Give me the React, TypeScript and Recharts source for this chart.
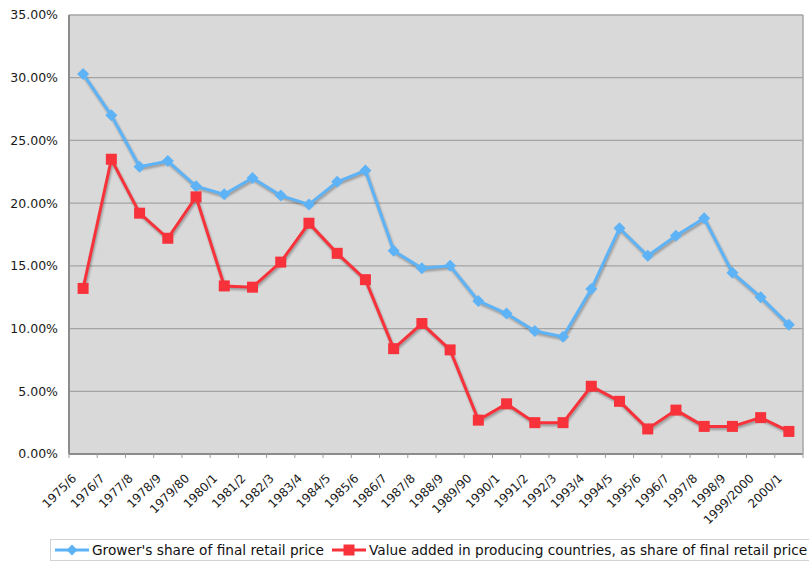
import React from 'react';
import { LineChart, Line, XAxis, YAxis, CartesianGrid, Legend } from 'recharts';

const seasons = [
  '1975/6', '1976/7', '1977/8', '1978/9', '1979/80', '1980/1', '1981/2', '1982/3', '1983/4',
  '1984/5', '1985/6', '1986/7', '1987/8', '1988/9', '1989/90', '1990/1', '1991/2', '1992/3',
  '1993/4', '1994/5', '1995/6', '1996/7', '1997/8', '1998/9', '1999/2000', '2000/1',
];

// percent of final retail price
const growerShare = [
  30.3, 27.0, 22.9, 23.35, 21.35, 20.7, 22.0, 20.6, 19.9, 21.7, 22.6, 16.2, 14.8,
  15.0, 12.2, 11.2, 9.8, 9.35, 13.15, 18.0, 15.8, 17.4, 18.8, 14.45, 12.5, 10.3,
];

const valueAdded = [
  13.2, 23.5, 19.2, 17.2, 20.5, 13.4, 13.3, 15.3, 18.4, 16.0, 13.9, 8.4, 10.4,
  8.3, 2.7, 4.0, 2.5, 2.5, 5.4, 4.2, 2.0, 3.5, 2.2, 2.2, 2.9, 1.8,
];

const yTicks = [0, 5, 10, 15, 20, 25, 30, 35];

const GROWER_LABEL = "Grower's share of final retail price";
const ADDED_LABEL = 'Value added in producing countries, as share of final retail price';

const BLUE = '#5eb3f6';
const RED = '#f8323a';
const FONT = '"DejaVu Sans", Verdana, sans-serif';

const data = seasons.map((season, i) => ({
  season,
  grower: growerShare[i],
  added: valueAdded[i],
}));

const Diamond = (props: any) => {
  const { cx, cy, index } = props;
  if (cx == null || cy == null) return null;
  const r = 6;
  return (
    <polygon
      key={`d-${index}`}
      points={`${cx},${cy - r} ${cx + r},${cy} ${cx},${cy + r} ${cx - r},${cy}`}
      fill={BLUE}
    />
  );
};

const Square = (props: any) => {
  const { cx, cy, index } = props;
  if (cx == null || cy == null) return null;
  const s = 11;
  return <rect key={`s-${index}`} x={cx - s / 2} y={cy - s / 2} width={s} height={s} fill={RED} />;
};

// tick marks sit on the band edges, labels are slanted under each band
const SeasonTick = (props: any) => {
  const { x, y, payload, index } = props;
  const half = payload && payload.offset ? payload.offset : 14.1;
  const isLast = index === seasons.length - 1;
  const tx = x - 6;
  const ty = y + 25;
  return (
    <g>
      <line x1={x - half} y1={y} x2={x - half} y2={y + 4} stroke="#9a9a9a" />
      {isLast && <line x1={x + half} y1={y} x2={x + half} y2={y + 4} stroke="#9a9a9a" />}
      <text
        x={tx}
        y={ty}
        transform={`rotate(-45 ${tx} ${ty})`}
        textAnchor="end"
        fontSize={12}
        fontFamily={FONT}
        fill="#1a1a1a"
      >
        {payload.value}
      </text>
    </g>
  );
};

const LegendMarker = ({ color, square }: { color: string; square: boolean }) => (
  <svg width={34} height={12} style={{ display: 'block' }}>
    <line x1={0} y1={6} x2={34} y2={6} stroke={color} strokeWidth={3} />
    {square ? (
      <rect x={11.5} y={0.5} width={11} height={11} fill={color} />
    ) : (
      <polygon points="17,0.5 22.5,6 17,11.5 11.5,6" fill={color} />
    )}
  </svg>
);

const renderLegend = (props: any) => {
  const items = props.payload || [];
  return (
    <div
      style={{
        height: 22,
        boxSizing: 'border-box',
        border: '1px solid #d2d2d2',
        background: '#fff',
        display: 'flex',
        alignItems: 'center',
        paddingLeft: 4,
        whiteSpace: 'nowrap',
        fontFamily: FONT,
        fontSize: 13.7,
        color: '#111',
      }}
    >
      {items.map((item: any) => (
        <span key={item.value} style={{ display: 'inline-flex', alignItems: 'center', marginRight: 8 }}>
          <LegendMarker color={item.color} square={item.dataKey === 'added'} />
          <span style={{ marginLeft: 3 }}>{item.value}</span>
        </span>
      ))}
    </div>
  );
};

export default function App() {
  return (
    <div style={{ position: 'absolute', left: 0, top: 0, width: 809, height: 561, overflow: 'hidden', background: '#fff' }}>
      <style>{'.shadowed { filter: drop-shadow(1px 2px 1px rgba(0,0,0,0.3)); }'}</style>
      <LineChart
        width={809}
        height={561}
        data={data}
        margin={{ top: 15, right: 5, left: 0, bottom: 0 }}
        style={{ fontFamily: FONT }}
      >
        <CartesianGrid fill="#d9d9d9" vertical={false} stroke="#a4a4a4" strokeWidth={1.3} />
        <XAxis
          dataKey="season"
          scale="band"
          height={85}
          interval={0}
          tickSize={0}
          tickMargin={0}
          tickLine={false}
          axisLine={{ stroke: '#8c8c8c', strokeWidth: 2 }}
          tick={<SeasonTick />}
        />
        <YAxis
          width={69}
          domain={[0, 35]}
          ticks={yTicks}
          interval={0}
          tickSize={0}
          tickMargin={11}
          tickLine={false}
          axisLine={{ stroke: '#8c8c8c', strokeWidth: 2 }}
          tickFormatter={(v: number) => `${v.toFixed(2)}%`}
          tick={{ fontSize: 12.5, fill: '#1a1a1a', fontFamily: FONT }}
        />
        <YAxis
          yAxisId="frame"
          orientation="right"
          width={1}
          domain={[0, 1]}
          tick={false}
          tickLine={false}
          axisLine={{ stroke: '#a4a4a4', strokeWidth: 1.5 }}
        />
        <Line
          className="shadowed"
          dataKey="grower"
          name={GROWER_LABEL}
          stroke={BLUE}
          strokeWidth={3}
          dot={Diamond}
          activeDot={false}
          isAnimationActive={false}
        />
        <Line
          className="shadowed"
          dataKey="added"
          name={ADDED_LABEL}
          stroke={RED}
          strokeWidth={3}
          dot={Square}
          activeDot={false}
          isAnimationActive={false}
        />
        <Legend
          layout="horizontal"
          verticalAlign="bottom"
          content={renderLegend}
          wrapperStyle={{ position: 'absolute', left: 50, top: 539, bottom: 'auto', width: 780, height: 22 }}
        />
      </LineChart>
    </div>
  );
}
